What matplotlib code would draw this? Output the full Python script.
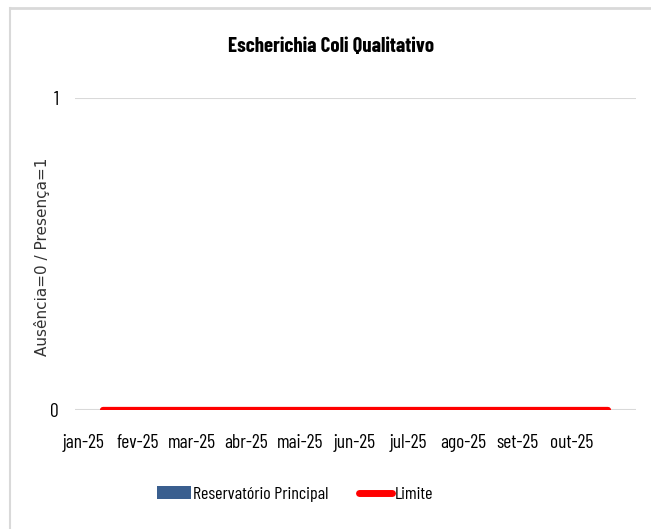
import matplotlib
matplotlib.use("Agg")
import matplotlib.pyplot as plt
from matplotlib.lines import Line2D
from matplotlib.patches import Patch
import numpy as np

months = ["jan-25", "fev-25", "mar-25", "abr-25", "mai-25", "jun-25",
          "jul-25", "ago-25", "set-25", "out-25"]
reservatorio = [0, 0, 0, 0, 0, 0, 0, 0, 0, 0]
limite = [0, 0, 0, 0, 0, 0, 0, 0, 0, 0]

narrow = ["Barlow Condensed", "DejaVu Sans"]

fig = plt.figure(figsize=(6.51, 5.29), dpi=100)
fig.patch.set_facecolor("white")

# outer chart border (top and left)
fig.add_artist(Line2D([10/651, 1], [1-8/529, 1-8/529], transform=fig.transFigure, color="#d9d9d9", lw=2))
fig.add_artist(Line2D([10/651, 10/651], [0, 1-8/529], transform=fig.transFigure, color="#d9d9d9", lw=1.5))

ax = fig.add_axes([75/651, 1-410/529, (636-75)/651, (410-98)/529])
x = np.arange(len(months))
ax.bar(x, reservatorio, width=0.6, color="#3A5F8F")
ax.plot(x, limite, color="#ff0000", lw=4.5, solid_capstyle="round", zorder=3)

ax.set_xlim(-0.5, len(months) - 0.5)
ax.set_ylim(0, 1)
ax.set_yticks([0, 1])
ax.set_yticklabels(["0", "1"], family=narrow, fontsize=14)
ax.yaxis.grid(True, color="#d9d9d9", lw=1.5)
ax.set_axisbelow(True)
for s in ax.spines.values():
    s.set_visible(False)
ax.tick_params(axis="both", length=0)
ax.tick_params(axis="y", pad=12)

label_pos = -0.34 + 0.965 * x
ax.set_xticks(label_pos)
ax.set_xticklabels(months, family=narrow, fontsize=14)
ax.tick_params(axis="x", pad=17)

ax.set_ylabel("Ausência=0 / Presença=1", fontsize=11, color="#333333")
ax.yaxis.set_label_coords(-0.045, 0.49)

fig.text(331/651, 1-47/529, "Escherichia Coli Qualitativo", ha="center", va="center",
         family=narrow, fontsize=15, fontweight="bold")

handles = [Patch(facecolor="#3A5F8F", edgecolor="none"),
           Line2D([0], [0], color="#ff0000", lw=5, solid_capstyle="round")]
fig.legend(handles, ["Reservatório Principal", "Limite"], loc="center left",
           bbox_to_anchor=(141/651, 1-494/529), ncol=2, frameon=False,
           prop={"family": narrow, "size": 13}, handlelength=1.85,
           handletextpad=0.12, columnspacing=1.7)

fig.savefig("out.png", dpi=100)
